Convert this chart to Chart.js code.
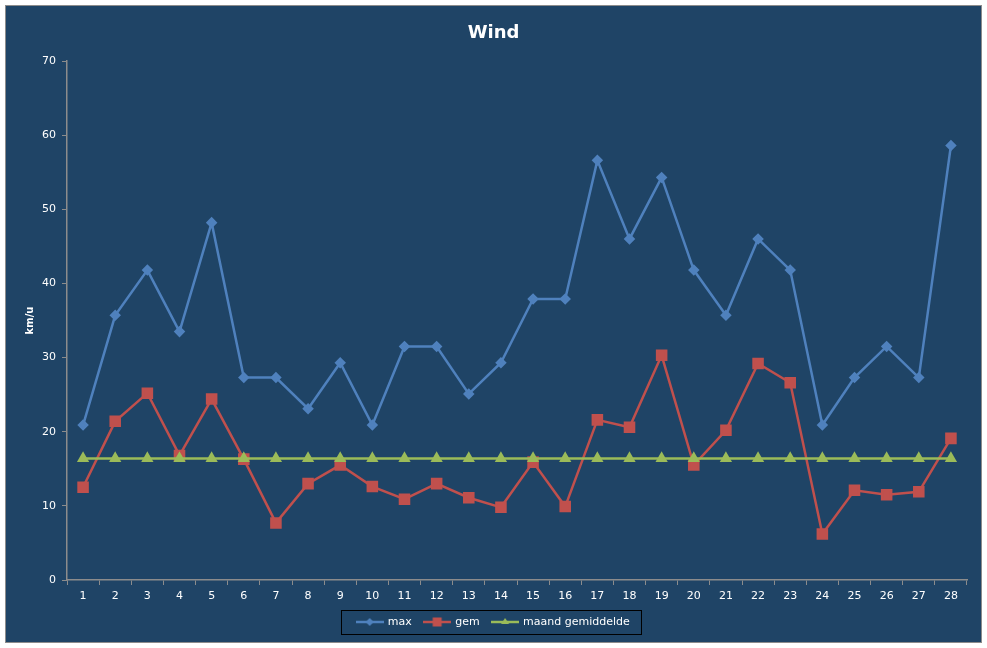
<!DOCTYPE html>
<html>
<head>
<meta charset="utf-8">
<script src="https://cdn.jsdelivr.net/npm/chart.js@4"></script>
<style>
  html, body { margin: 0; padding: 0; background: #ffffff; }
  #frame { position: absolute; left: 5px; top: 5px; width: 975px; height: 636px; border: 1px solid #8c8c8c; background: #1f4466; }
  canvas { display: block; }
</style>
</head>
<body>
<div id="frame"><canvas id="c"></canvas></div>
<script>
const days = ['1','2','3','4','5','6','7','8','9','10','11','12','13','14','15','16','17','18','19','20','21','22','23','24','25','26','27','28'];
const maxWind = [20.9, 35.7, 41.8, 33.5, 48.2, 27.3, 27.3, 23.1, 29.3, 20.9, 31.5, 31.5, 25.1, 29.3, 37.9, 37.9, 56.6, 46.0, 54.3, 41.8, 35.7, 46.0, 41.8, 20.9, 27.3, 31.5, 27.3, 58.6];
const gemWind = [12.5, 21.4, 25.2, 16.8, 24.4, 16.3, 7.7, 13.0, 15.5, 12.6, 10.9, 13.0, 11.1, 9.8, 15.9, 9.9, 21.6, 20.6, 30.3, 15.5, 20.2, 29.2, 26.6, 6.2, 12.1, 11.5, 11.9, 19.1];
const maandGem = [16.4, 16.4, 16.4, 16.4, 16.4, 16.4, 16.4, 16.4, 16.4, 16.4, 16.4, 16.4, 16.4, 16.4, 16.4, 16.4, 16.4, 16.4, 16.4, 16.4, 16.4, 16.4, 16.4, 16.4, 16.4, 16.4, 16.4, 16.4];
const yTicks = [0, 10, 20, 30, 40, 50, 60, 70];

const BLUE = '#4f81bd', RED = '#c0504d', GREEN = '#9bbb59';
const FONT = 'DejaVu Sans';

function legendIcon(color, kind) {
  const w = 28, h = 12;
  const cv = document.createElement('canvas');
  cv.width = w; cv.height = h;
  const g = cv.getContext('2d');
  g.strokeStyle = color; g.fillStyle = color; g.lineWidth = 2.5;
  g.beginPath(); g.moveTo(0, h / 2); g.lineTo(w, h / 2); g.stroke();
  const cx = w / 2, cy = h / 2;
  g.beginPath();
  if (kind === 'diamond') { g.moveTo(cx, cy - 4); g.lineTo(cx + 4, cy); g.lineTo(cx, cy + 4); g.lineTo(cx - 4, cy); }
  else if (kind === 'square') { g.rect(cx - 4.5, cy - 4.5, 9, 9); }
  else { g.moveTo(cx, cy - 4); g.lineTo(cx + 4, cy + 2); g.lineTo(cx - 4, cy + 2); }
  g.closePath(); g.fill();
  return cv;
}
const icons = [legendIcon(BLUE, 'diamond'), legendIcon(RED, 'square'), legendIcon(GREEN, 'triangle')];

const legendBox = {
  id: 'legendBox',
  afterDraw(chart) {
    const lg = chart.legend;
    if (!lg || !lg.legendHitBoxes || !lg.legendHitBoxes.length) return;
    const hb = lg.legendHitBoxes;
    let l = Infinity, r = -Infinity;
    hb.forEach(b => { l = Math.min(l, b.left); r = Math.max(r, b.left + b.width); });
    const cy = hb[0].top + hb[0].height / 2;
    const ctx = chart.ctx;
    ctx.save();
    ctx.strokeStyle = '#000000';
    ctx.lineWidth = 1;
    ctx.strokeRect(Math.round(l - 16) + 0.5, Math.round(cy - 12) + 0.5, Math.round(r - l + 27), 24);
    ctx.restore();
  }
};

new Chart(document.getElementById('c'), {
  type: 'line',
  data: {
    labels: days,
    datasets: [
      { label: 'max', data: maxWind, borderColor: BLUE, backgroundColor: BLUE, borderWidth: 2.5,
        pointStyle: 'rectRot', pointRadius: 4, pointHoverRadius: 4, tension: 0, order: 2 },
      { label: 'gem', data: gemWind, borderColor: RED, backgroundColor: RED, borderWidth: 2.5,
        pointStyle: 'rect', pointRadius: 6.4, pointHoverRadius: 6.4, tension: 0, order: 1 },
      { label: 'maand gemiddelde', data: maandGem, borderColor: GREEN, backgroundColor: GREEN, borderWidth: 2.5,
        pointStyle: 'triangle', pointRadius: 4.6, pointHoverRadius: 4.6, tension: 0, order: 0 }
    ]
  },
  options: {
    responsive: true,
    maintainAspectRatio: false,
    animation: false,
    layout: { padding: { left: 0, right: 0, top: 0, bottom: 4.5 } },
    plugins: {
      title: {
        display: true, text: 'Wind', color: '#ffffff',
        font: { family: FONT, size: 18, weight: 'bold', lineHeight: 1.2 },
        padding: { top: 17, bottom: 16.4 }
      },
      legend: {
        position: 'bottom',
        labels: {
          color: '#ffffff',
          font: { family: FONT, size: 11 },
          usePointStyle: true,
          pointStyleWidth: 25,
          boxHeight: 11,
          padding: 13,
          sort: (a, b) => a.datasetIndex - b.datasetIndex,
          generateLabels(chart) {
            const items = Chart.defaults.plugins.legend.labels.generateLabels(chart);
            items.forEach(it => { it.pointStyle = icons[it.datasetIndex]; it.lineWidth = 0; });
            return items;
          }
        }
      },
      tooltip: { enabled: false }
    },
    scales: {
      x: {
        offset: true,
        afterFit(s) { s.height = 23.5; },
        grid: { display: true, offset: true, drawOnChartArea: false, drawTicks: true, tickLength: 5, color: '#8c8c8c', lineWidth: 1 },
        border: { display: true, color: '#8c8c8c', width: 1.5 },
        ticks: { color: '#ffffff', font: { family: FONT, size: 11 }, padding: 5, maxRotation: 0, autoSkip: false }
      },
      y: {
        min: 0, max: 70,
        afterFit(s) { s.width = 61; },
        afterBuildTicks(s) { s.ticks = yTicks.map(v => ({ value: v })); },
        grid: { display: true, drawOnChartArea: false, drawTicks: true, tickLength: 5, color: '#8c8c8c', lineWidth: 1 },
        border: { display: true, color: '#8c8c8c', width: 1.5 },
        ticks: { color: '#ffffff', font: { family: FONT, size: 11 }, padding: 6 },
        title: {
          display: true, text: 'km/u', color: '#ffffff',
          font: { family: FONT, size: 10, weight: 'bold', lineHeight: 1.2 },
          padding: { top: 18, bottom: 0 }
        }
      },
      ySpacer: {
        position: 'right',
        min: 0, max: 70,
        afterFit(s) { s.width = 14; },
        grid: { display: false, drawTicks: false },
        border: { display: false },
        ticks: { display: false }
      }
    }
  },
  plugins: [legendBox]
});
</script>
</body>
</html>
